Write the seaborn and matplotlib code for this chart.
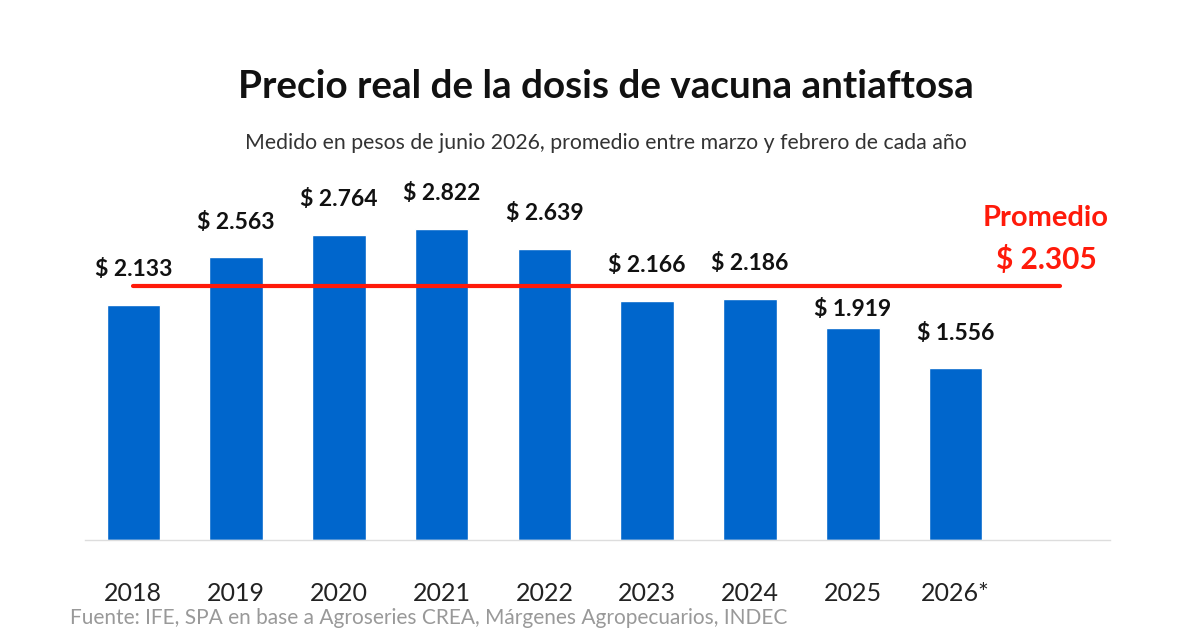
import matplotlib
matplotlib.use("Agg")
import matplotlib.pyplot as plt
import seaborn as sns
import pandas as pd

# data
years = ["2018", "2019", "2020", "2021", "2022", "2023", "2024", "2025", "2026*"]
precio = [2133, 2563, 2764, 2822, 2639, 2166, 2186, 1919, 1556]
promedio = 2305

df = pd.DataFrame({"anio": years, "precio": precio})

sns.set_style("white")
plt.rcParams["font.family"] = ["Lato", "DejaVu Sans"]

fig = plt.figure(figsize=(12, 6.3), dpi=100)
ax = fig.add_axes([0.0708, 0.1429, 0.854, 0.5714])

sns.barplot(data=df, x="anio", y="precio", color="#0066CC", width=0.52,
            saturation=1, ax=ax)

# value labels (the one that would sit on the average line goes just under it)
for i, v in enumerate(precio):
    lab = "$ " + f"{v:,}".replace(",", ".")
    y = v + 320
    if abs(y - promedio) < 100:
        y = v + 175
    ax.text(i, y, lab, ha="center", va="center", fontsize=16.5,
            fontweight="bold", color="#111111")

# average line
ax.plot([0, 9.02], [promedio, promedio], color="#FF1A0A", lw=3,
        solid_capstyle="round", zorder=3)
ax.text(8.88, 2920, "Promedio", ha="center", va="center",
        fontsize=21, fontweight="bold", color="#FF1A0A")
ax.text(8.88, 2540, "$ " + f"{promedio:,}".replace(",", "."),
        ha="center", va="center", fontsize=21.5, fontweight="bold",
        color="#FF1A0A")

ax.set_xlim(-0.47, 9.5)
ax.set_ylim(0, 3264)
ax.set_xlabel("")
ax.set_ylabel("")
ax.set_yticks([])
ax.tick_params(axis="x", length=0, labelsize=18, labelcolor="#222222", pad=30.5)
for s in ["top", "right", "left"]:
    ax.spines[s].set_visible(False)
ax.spines["bottom"].set_color("#dddddd")
ax.spines["bottom"].set_linewidth(1)

fig.text(0.505, 0.862, "Precio real de la dosis de vacuna antiaftosa",
         ha="center", va="center", fontsize=27.8, fontweight="bold",
         color="#111111")
fig.text(0.505, 0.773,
         "Medido en pesos de junio 2026, promedio entre marzo y febrero de cada año",
         ha="center", va="center", fontsize=15.3, color="#333333")
fig.text(0.058, 0.003, "Fuente: IFE, SPA en base a Agroseries CREA, Márgenes Agropecuarios, INDEC",
         ha="left", va="bottom", fontsize=15, color="#999999")

fig.savefig("out.png", dpi=100)
